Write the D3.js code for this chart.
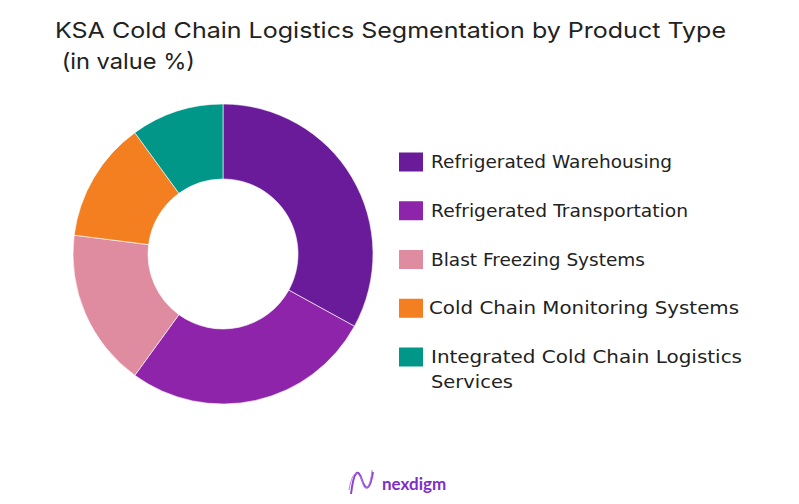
<!DOCTYPE html>
<html><head><meta charset="utf-8">
<script src="https://cdn.jsdelivr.net/npm/d3@7"></script>
<style>body{margin:0;background:#fff}svg{display:block}</style>
</head><body>
<svg id="c" width="799" height="504"></svg>
<script>
const categories = ["Refrigerated Warehousing","Refrigerated Transportation","Blast Freezing Systems","Cold Chain Monitoring Systems","Integrated Cold Chain Logistics Services"];
const values = [33, 27, 17, 13, 10];
const colors = ["#6A1B9A","#8E24AA","#DF8CA1","#F47F21","#009688"];
const legendLines = [["Refrigerated Warehousing"],["Refrigerated Transportation"],["Blast Freezing Systems"],["Cold Chain Monitoring Systems"],["Integrated Cold Chain Logistics","Services"]];

const svg = d3.select("#c");
const title = svg.append("g")
  .attr("font-family","Inter, 'Open Sans', sans-serif").attr("font-size",22).attr("fill","#222");
title.append("text").attr("x",55).attr("y",38).attr("textLength",671).attr("lengthAdjust","spacingAndGlyphs")
  .text("KSA Cold Chain Logistics Segmentation by Product Type");
title.append("text").attr("x",55).attr("y",69).attr("textLength",140).attr("lengthAdjust","spacingAndGlyphs")
  .text("\u00a0(in value %)");

const pie = d3.pie().sort(null).value(d=>d)(values);
const arc = d3.arc().innerRadius(75).outerRadius(150);
const g = svg.append("g").attr("transform","translate(223,254)");
g.selectAll("path").data(pie).join("path").attr("d",arc)
  .attr("fill",(d,i)=>colors[i]).attr("stroke","#fff").attr("stroke-width",0.6);

// measured legend line widths in reference (layout)
const lineW = [[241],[257],[214],[310],[311,82]];
const leg = svg.append("g");
const rowY = d3.scalePoint().domain(d3.range(categories.length)).range([162,357]);
categories.forEach((c,i)=>{
  const y = rowY(i);
  leg.append("rect").attr("x",399).attr("y",y-9.5).attr("width",24).attr("height",19).attr("fill",colors[i]);
  legendLines[i].forEach((ln,j)=>{
    leg.append("text").attr("font-family","'DejaVu Sans', sans-serif").attr("font-size",17).attr("fill","#222")
      .attr("x", i===3?429:431).attr("y", y+6+j*25)
      .attr("textLength",lineW[i][j]).attr("lengthAdjust","spacingAndGlyphs").text(ln);
  });
});

// logo
const lg = svg.append("g");
lg.append("path").attr("d","M351,494 C354,470 358,468 362,480 C366,492 370,490 373,472")
  .attr("fill","none").attr("stroke","#8E44D0").attr("stroke-width",2);
lg.append("path").attr("d","M349,490 C353,466 360,472 363,484 C366,494 371,484 372,470")
  .attr("fill","none").attr("stroke","#B57EE5").attr("stroke-width",1);
lg.append("text").attr("x",382).attr("y",490).attr("font-family","Lato, sans-serif").attr("font-weight",700)
  .attr("font-size",17).attr("fill","#7E2FC8").text("nexdigm");
</script>
</body></html>
